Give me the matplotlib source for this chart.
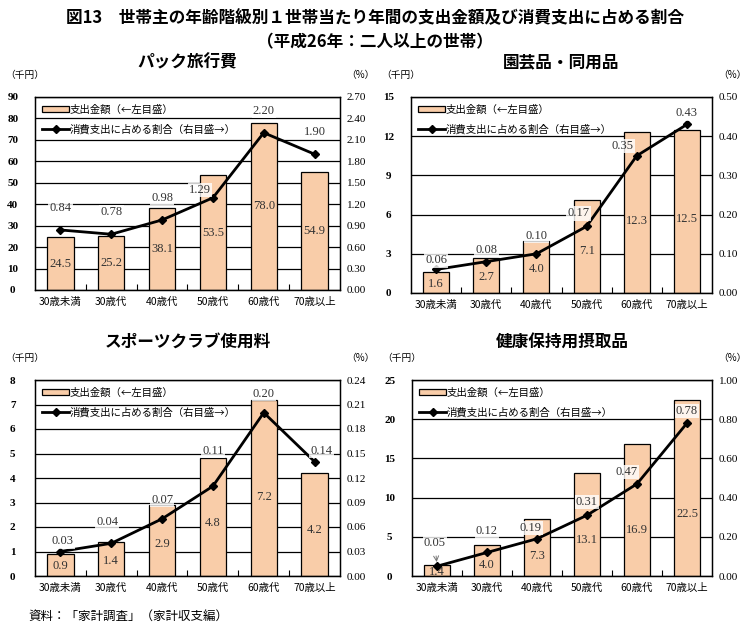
import matplotlib
matplotlib.use("Agg")
import matplotlib.pyplot as plt
from matplotlib.ticker import FixedLocator, FuncFormatter
import numpy as np

plt.rcParams['font.family'] = ['Noto Sans CJK JP', 'DejaVu Sans']

# ------------------------------
# data
# ------------------------------
ages = ["30歳未満", "30歳代", "40歳代", "50歳代", "60歳代", "70歳以上"]

titles = ["パック旅行費", "園芸品・同用品", "スポーツクラブ使用料", "健康保持用摂取品"]

pack_amount = [24.5, 25.2, 38.1, 53.5, 78.0, 54.9]
pack_share = [0.84, 0.78, 0.98, 1.29, 2.20, 1.90]

garden_amount = [1.6, 2.7, 4.0, 7.1, 12.3, 12.5]
garden_share = [0.06, 0.08, 0.10, 0.17, 0.35, 0.43]

sports_amount = [0.9, 1.4, 2.9, 4.8, 7.2, 4.2]
sports_share = [0.03, 0.04, 0.07, 0.11, 0.20, 0.14]

health_amount = [1.4, 4.0, 7.3, 13.1, 16.9, 22.5]
health_share = [0.05, 0.12, 0.19, 0.31, 0.47, 0.78]

# axis settings (left max, left step, right max, right step)
scales = [(90, 10, 2.70, 0.30), (15, 3, 0.50, 0.10), (8, 1, 0.24, 0.03), (25, 5, 1.00, 0.20)]

# label offsets for the share labels, in pixels (dx, dy)
share_offsets = [
    [(0, 22), (0, 22), (0, 22), (-13, 8), (0, 22), (0, 22)],
    [(0, 9), (0, 12), (0, 18), (-8, 13), (-14, 10), (0, 11)],
    [(2, 10), (-4, 21), (0, 19), (0, 35), (0, 19), (7, 11)],
    [(-2, 23), (0, 21), (-6, 11), (0, 13), (-10, 12), (0, 12)],
]
amount_frac = [0.5, 0.45, 0.45, 0.35]

# axes rectangles in pixels: left, top, right, bottom
boxes = [(35, 97, 340, 290), (411, 97, 712, 293), (35, 380, 340, 576), (412, 380, 712, 576)]

W, H = 750, 630
bar_color = "#F9CDA9"
serif = ["Liberation Serif", "DejaVu Serif"]

fig = plt.figure(figsize=(W / 100, H / 100), dpi=100)

fig.text(0.5, 1 - 18 / H, "図13　世帯主の年齢階級別１世帯当たり年間の支出金額及び消費支出に占める割合",
         ha="center", va="center", fontsize=12, fontweight="bold")
fig.text(0.5, 1 - 42 / H, "（平成26年：二人以上の世帯）",
         ha="center", va="center", fontsize=12, fontweight="bold")

amounts = [pack_amount, garden_amount, sports_amount, health_amount]
shares = [pack_share, garden_share, sports_share, health_share]
title_y = [62, 62, 342, 342]

x = np.arange(len(ages))

for i in range(4):
    l, t, r, b = boxes[i]
    ax = fig.add_axes([l / W, 1 - b / H, (r - l) / W, (b - t) / H])
    lmax, lstep, rmax, rstep = scales[i]

    ax.bar(x, amounts[i], width=0.52, color=bar_color, edgecolor="black", linewidth=0.9,
           zorder=2, label="支出金額（←左目盛）")
    ax.set_xlim(-0.5, len(ages) - 0.5)
    ax.set_ylim(0, lmax)
    ax.set_yticks(np.arange(0, lmax + lstep / 2, lstep))
    ax.yaxis.grid(True, color="black", linewidth=0.9, zorder=0)
    ax.set_axisbelow(True)
    ax.tick_params(axis="y", length=0, pad=16, labelsize=8)
    for lab in ax.get_yticklabels():
        lab.set_family(serif)
        lab.set_fontweight("bold")
        lab.set_horizontalalignment("center")
    ax.set_xticks(x)
    ax.set_xticklabels(ages, fontsize=7.5)
    ax.tick_params(axis="x", length=0, pad=5)
    ax.xaxis.set_minor_locator(FixedLocator(np.arange(0.5, len(ages) - 1, 1)))
    ax.tick_params(axis="x", which="minor", direction="in", length=4, width=0.8)
    for s in ax.spines.values():
        s.set_linewidth(1.0)

    for xi, v in zip(x, amounts[i]):
        ax.text(xi, v * amount_frac[i], f"{v:.1f}", ha="center", va="center",
                fontsize=9, family=serif, color="#333333", zorder=6)

    ax2 = ax.twinx()
    ax2.plot(x, shares[i], color="black", linewidth=2, marker="D", markersize=4,
             zorder=5, label="消費支出に占める割合（右目盛→）")
    ax2.set_ylim(0, rmax)
    ax2.set_yticks(np.arange(0, rmax + rstep / 2, rstep))
    ax2.yaxis.set_major_formatter(FuncFormatter(lambda v, p: f"{v:.2f}"))
    ax2.tick_params(axis="y", length=0, pad=5, labelsize=8)
    for lab in ax2.get_yticklabels():
        lab.set_family(serif)

    for j, v in enumerate(shares[i]):
        dx, dy = share_offsets[i][j]
        arrow = None
        if i == 3 and j == 0:
            arrow = dict(arrowstyle="->", color="#777777", lw=0.7, shrinkA=4, shrinkB=3)
        ax2.annotate(f"{v:.2f}", (x[j], v), xytext=(dx * 0.72, dy * 0.72),
                     textcoords="offset points", ha="center", va="center",
                     fontsize=9, family=serif, color="#333333", arrowprops=arrow,
                     bbox=dict(boxstyle="square,pad=0.1", fc="white", ec="none", alpha=0.8),
                     zorder=7)

    h1, l1 = ax.get_legend_handles_labels()
    h2, l2 = ax2.get_legend_handles_labels()
    leg = ax2.legend(h1 + h2, l1 + l2, loc="upper left", frameon=False, fontsize=7.5,
                     handlelength=2.6, handleheight=0.5, handletextpad=0.0,
                     labelspacing=0.9, borderaxespad=0.3)
    leg.set_zorder(10)

    fig.text((l + r) / 2 / W, 1 - title_y[i] / H, titles[i], ha="center", va="center",
             fontsize=12, fontweight="bold")
    fig.text((l - 30) / W, 1 - (t - 22) / H, "（千円）", ha="left", va="center", fontsize=7)
    fig.text((r + 20) / W, 1 - (t - 22) / H, "（%）", ha="center", va="center", fontsize=7)

fig.text(28 / W, 1 - 616 / H, "資料：「家計調査」（家計収支編）", ha="left", va="center", fontsize=9)

fig.savefig("out.png", dpi=100)
